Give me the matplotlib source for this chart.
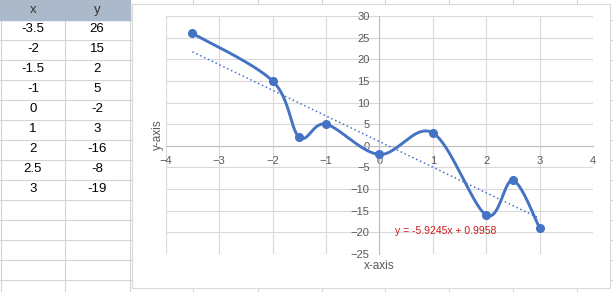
import numpy as np
import matplotlib
matplotlib.use('Agg')
import matplotlib.pyplot as plt
from matplotlib.patches import Rectangle

# data from the sheet
x_vals = [-3.5, -2, -1.5, -1, 0, 1, 2, 2.5, 3]
y_vals = [26, 15, 2, 5, -2, 3, -16, -8, -19]
x_ticks = [-4, -3, -2, -1, 0, 1, 2, 3, 4]
y_ticks = [-25, -20, -15, -10, -5, 0, 5, 10, 15, 20, 25, 30]

W, H = 613, 292
blue = '#4472C4'
grid = '#D9D9D9'
txt = '#595959'
plt.rcParams['font.family'] = ['Liberation Sans', 'DejaVu Sans']

fig = plt.figure(figsize=(W / 100, H / 100), dpi=100)

# spreadsheet background, pixel coordinates
bg = fig.add_axes([0, 0, 1, 1])
bg.set_xlim(0, W)
bg.set_ylim(H, 0)
bg.set_axis_off()
sheet_line = '#D4D4D4'
for y in np.arange(19.5, H, 20):
    bg.plot([0, W], [y, y], color=sheet_line, lw=0.8)
for x in [1, 65, 129.5, 193, 258, 322, 385, 449, 513, 577]:
    bg.plot([x, x], [0, H], color=sheet_line, lw=0.8)
bg.add_patch(Rectangle((0, 0), 129.5, 19.5, color='#ACB9CA', zorder=2))
bg.text(33, 10, 'x', ha='center', va='center', fontsize=9.5, color='#333333', zorder=3)
bg.text(97, 10, 'y', ha='center', va='center', fontsize=9.5, color='#333333', zorder=3)
for i, (xv, yv) in enumerate(zip(x_vals, y_vals)):
    yc = 29.5 + 20 * i
    bg.text(33, yc, f'{xv:g}', ha='center', va='center', fontsize=9.5, color='black')
    bg.text(97, yc, f'{yv:g}', ha='center', va='center', fontsize=9.5, color='black')

# chart frame
bg.add_patch(Rectangle((132, 4), 478, 284, facecolor='white', edgecolor=grid, lw=0.8, zorder=4))
bg.text(158, 135, 'y-axis', rotation=90, ha='center', va='center', fontsize=8.5, color=txt, zorder=5)
bg.text(379.5, 266, 'x-axis', ha='center', va='center', fontsize=8.5, color=txt, zorder=5)

# plot area
left, right, top, bottom = 165.7, 593, 16, 254
ax = fig.add_axes([left / W, 1 - bottom / H, (right - left) / W, (bottom - top) / H])
ax.set_facecolor('none')
ax.set_xlim(-4, 4)
ax.set_ylim(-25, 30)
ax.set_xticks(x_ticks)
ax.set_yticks(y_ticks)
ax.grid(True, color=grid, lw=0.8)
ax.set_axisbelow(True)
for s in ['top', 'right']:
    ax.spines[s].set_visible(False)
ax.spines['left'].set_position(('data', 0))
ax.spines['bottom'].set_position(('data', 0))
for s in ['left', 'bottom']:
    ax.spines[s].set_color('#BFBFBF')
    ax.spines[s].set_linewidth(0.8)
ax.tick_params(length=0, labelsize=8, labelcolor=txt)
ax.tick_params(axis='x', pad=7.5)
ax.tick_params(axis='y', pad=7)

# smoothed line, Bezier through points in pixel space (like Excel)
sx = (right - left) / 8
sy = (bottom - top) / 55
P = np.column_stack([np.array(x_vals) * sx, np.array(y_vals) * sy])
n = len(P)
curve = []
t = np.linspace(0, 1, 40)[:, None]
for i in range(n - 1):
    p0 = P[max(i - 1, 0)]
    p1, p2 = P[i], P[i + 1]
    p3 = P[min(i + 2, n - 1)]
    b1 = p1 + (p2 - p0) / 6
    b2 = p2 - (p3 - p1) / 6
    seg = (1 - t) ** 3 * p1 + 3 * (1 - t) ** 2 * t * b1 + 3 * (1 - t) * t ** 2 * b2 + t ** 3 * p2
    curve.append(seg)
curve = np.vstack(curve)
ax.plot(curve[:, 0] / sx, curve[:, 1] / sy, color=blue, lw=2.1, solid_capstyle='round', zorder=3)
ax.plot(x_vals, y_vals, 'o', color=blue, ms=5.5, zorder=4)

# linear trendline
m, b = np.polyfit(x_vals, y_vals, 1)
xt = np.array([min(x_vals), max(x_vals)])
ax.plot(xt, m * xt + b, color=blue, lw=1.1, linestyle=(0, (1, 1.8)), zorder=3)
ax.text(1.25, -19.7, f'y = {m:.4f}x + {b:.4f}', ha='center', va='center',
        fontsize=7.5, color='#D01C1C', zorder=5)

fig.savefig('out.png', dpi=100)
